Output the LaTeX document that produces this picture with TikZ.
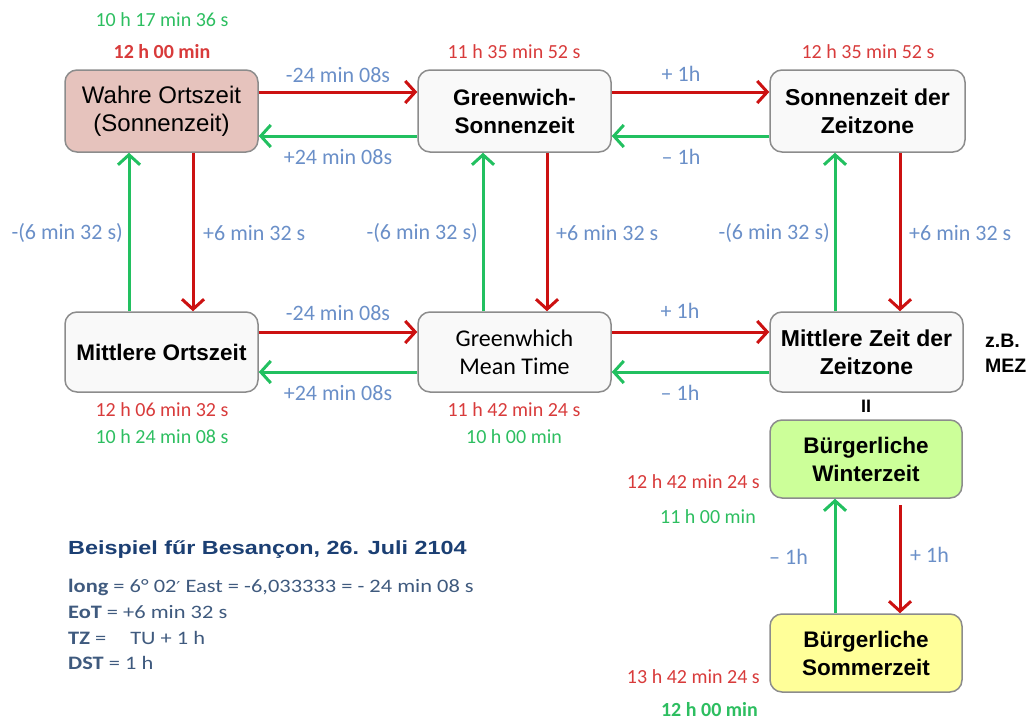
\documentclass[tikz,border=0pt]{standalone}
\usepackage{fontspec}
\setmainfont{Carlito}
\newfontfamily\arial{Liberation Sans}
\newfontfamily\titlefont[FakeStretch=1.23]{Liberation Sans}
\newfontfamily\infofont[FakeStretch=1.18]{Carlito}
\newfontfamily\primefont[FakeStretch=1.18]{DejaVu Sans}
\usetikzlibrary{arrows.meta}
\definecolor{boxgray}{HTML}{8C8C8C}
\definecolor{boxfill}{HTML}{F9F9F9}
\definecolor{pinkfill}{HTML}{E6C3BD}
\definecolor{greenfill}{HTML}{CCFF99}
\definecolor{yellowfill}{HTML}{FFFF99}
\definecolor{arred}{HTML}{CC1111}
\definecolor{argreen}{HTML}{22C060}
\definecolor{txred}{HTML}{D83B3B}
\definecolor{txgreen}{HTML}{2DBE60}
\definecolor{lblue}{HTML}{6A8FC8}
\definecolor{darkblue}{HTML}{1B3F73}
\definecolor{slate}{HTML}{3F5A7E}
\begin{document}
\begin{tikzpicture}[x=1pt,y=-1pt,
  box/.style={draw=boxgray, line width=1.5pt, rounded corners=12pt, fill=boxfill,
    align=center, inner sep=0pt, font=\arial\fontsize{24}{28}\selectfont},
  bbox/.style={box, font=\arial\bfseries\fontsize{23}{28}\selectfont},
  rarr/.style={draw=arred, line width=3pt, -{Straight Barb[length=10pt,width=22pt]}},
  garr/.style={draw=argreen, line width=3pt, -{Straight Barb[length=10pt,width=22pt]}},
  lbl/.style={text=lblue, inner sep=0pt, font=\fontsize{22}{24}\selectfont},
  tred/.style={text=txred, inner sep=0pt, font=\fontsize{20}{22}\selectfont},
  tgreen/.style={text=txgreen, inner sep=0pt, font=\fontsize{20}{22}\selectfont},
  info/.style={text=slate, anchor=west, inner sep=0pt, font=\infofont\fontsize{19}{22}\selectfont},
  side/.style={anchor=west, inner sep=0pt, font=\arial\bfseries\fontsize{19.5}{24}\selectfont}
]
\useasboundingbox (0,0) rectangle (1033,720);

% boxes
\node[box, fill=pinkfill, minimum width=193pt, minimum height=82pt] (W) at (161.5,111) {Wahre Ortszeit\\(Sonnenzeit)};
\node[bbox, minimum width=193pt, minimum height=82pt, font=\arial\bfseries\fontsize{22.5}{28}\selectfont] (GS) at (514.5,111) {Greenwich-\\Sonnenzeit};
\node[bbox, minimum width=195pt, minimum height=82pt] (SZ) at (867.5,111) {Sonnenzeit der\\Zeitzone};
\node[bbox, minimum width=193pt, minimum height=80pt, font=\arial\bfseries\fontsize{22.5}{28}\selectfont] (MO) at (161.5,352) {Mittlere Ortszeit};
\node[box, minimum width=193pt, minimum height=80pt, font=\fontsize{24}{28}\selectfont] (GMT) at (514.5,352) {Greenwhich\\Mean Time};
\node[bbox, minimum width=193pt, minimum height=80pt] (MZ) at (866.5,352) {Mittlere Zeit der\\Zeitzone};
\node[bbox, fill=greenfill, minimum width=192pt, minimum height=78pt, font=\arial\bfseries\fontsize{22.5}{28}\selectfont] (BW) at (866,459) {Bürgerliche\\Winterzeit};
\node[bbox, fill=yellowfill, minimum width=192pt, minimum height=78pt, font=\arial\bfseries\fontsize{22.5}{28}\selectfont] (BS) at (866,653) {Bürgerliche\\Sommerzeit};

% helper coordinates
\coordinate (yt1) at (0,92);
\coordinate (yt2) at (0,136);
\coordinate (yb1) at (0,332);
\coordinate (yb2) at (0,372);
\coordinate (xl1) at (129,0);
\coordinate (xl2) at (193,0);
\coordinate (xm1) at (483,0);
\coordinate (xm2) at (547,0);
\coordinate (xr1) at (835,0);
\coordinate (xr2) at (900,0);
\coordinate (bwgap) at (0,505);

% horizontal arrows
\draw[rarr] (W.east |- yt1) -- (GS.west |- yt1);
\draw[garr] (GS.west |- yt2) -- (W.east |- yt2);
\draw[rarr] (GS.east |- yt1) -- (SZ.west |- yt1);
\draw[garr] (SZ.west |- yt2) -- (GS.east |- yt2);
\draw[rarr] (MO.east |- yb1) -- (GMT.west |- yb1);
\draw[garr] (GMT.west |- yb2) -- (MO.east |- yb2);
\draw[rarr] (GMT.east |- yb1) -- (MZ.west |- yb1);
\draw[garr] (MZ.west |- yb2) -- (GMT.east |- yb2);

% vertical arrows
\draw[garr] (MO.north -| xl1) -- (W.south -| xl1);
\draw[rarr] (W.south -| xl2) -- (MO.north -| xl2);
\draw[garr] (GMT.north -| xm1) -- (GS.south -| xm1);
\draw[rarr] (GS.south -| xm2) -- (GMT.north -| xm2);
\draw[garr] (MZ.north -| xr1) -- (SZ.south -| xr1);
\draw[rarr] (SZ.south -| xr2) -- (MZ.north -| xr2);
\draw[garr] (BS.north -| xr1) -- (BW.south -| xr1);
\draw[rarr] (bwgap -| xr2) -- (BS.north -| xr2);

% arrow labels
\node[lbl] (l1) at (338,75) {-24 min 08s};
\node[lbl] (l2) at (338,157) {+24 min 08s};
\node[lbl] (l3) at (681,74) {+ 1h};
\node[lbl] (l4) at (681,157) {– 1h};
\node[lbl] (l5) at (338,313) {-24 min 08s};
\node[lbl] (l6) at (338,393) {+24 min 08s};
\node[lbl] (l7) at (680,311) {+ 1h};
\node[lbl] (l8) at (680,393) {– 1h};
\node[lbl, anchor=east] (l9) at (123,233) {-(6 min 32 s)};
\node[lbl, anchor=west] (l10) at (203,233) {+6 min 32 s};
\node[lbl, anchor=east] (l11) at (478,233) {-(6 min 32 s)};
\node[lbl, anchor=west] (l12) at (556,233) {+6 min 32 s};
\node[lbl, anchor=east] (l13) at (830,233) {-(6 min 32 s)};
\node[lbl, anchor=west] (l14) at (909,233) {+6 min 32 s};
\node[lbl, anchor=east] (l15) at (808,557) {– 1h};
\node[lbl, anchor=west] (l16) at (910,555) {+ 1h};

% time values
\node[tgreen] (t1) at (162,20) {10 h 17 min 36 s};
\node[tred, font=\bfseries\fontsize{20}{22}\selectfont] (t2) at (162,52) {12 h 00 min};
\node[tred] (t3) at (514,52) {11 h 35 min 52 s};
\node[tred] (t4) at (868,52) {12 h 35 min 52 s};
\node[tred] (t5) at (162,410) {12 h 06 min 32 s};
\node[tgreen] (t6) at (162,437) {10 h 24 min 08 s};
\node[tred] (t7) at (514,410) {11 h 42 min 24 s};
\node[tgreen] (t8) at (514,437) {10 h 00 min};
\node[tred, anchor=east] (t9) at (760,482) {12 h 42 min 24 s};
\node[tgreen, anchor=east] (t10) at (756,517) {11 h 00 min};
\node[tred, anchor=east] (t11) at (760,677) {13 h 42 min 24 s};
\node[tgreen, anchor=east, font=\bfseries\fontsize{20}{22}\selectfont] (t12) at (758,710) {12 h 00 min};

% side notes
\node[side] (zb) at (985,341) {z.B.};
\node[side] (mez) at (985,366) {MEZ};
\node[inner sep=0pt, font=\arial\bfseries\fontsize{18}{22}\selectfont] (eq) at (866,406) {II};

% example text
\node[anchor=west, inner sep=0pt, text=darkblue, font=\titlefont\bfseries\fontsize{19}{22}\selectfont] (title) at (68,550) {Beispiel fűr Besançon, 26. Juli 2104};
\node[info] (i1) at (68,587) {\textbf{long} = 6° 02{\primefont\fontsize{15}{18}\selectfont ′} East = -6,033333 = - 24 min 08 s};
\node[info] (i2) at (68,612) {\textbf{EoT} = +6 min 32 s};
\node[info] (i3) at (68,638) {\textbf{TZ} = \quad TU + 1 h};
\node[info] (i4) at (68,663) {\textbf{DST} = 1 h};
\end{tikzpicture}
\end{document}
